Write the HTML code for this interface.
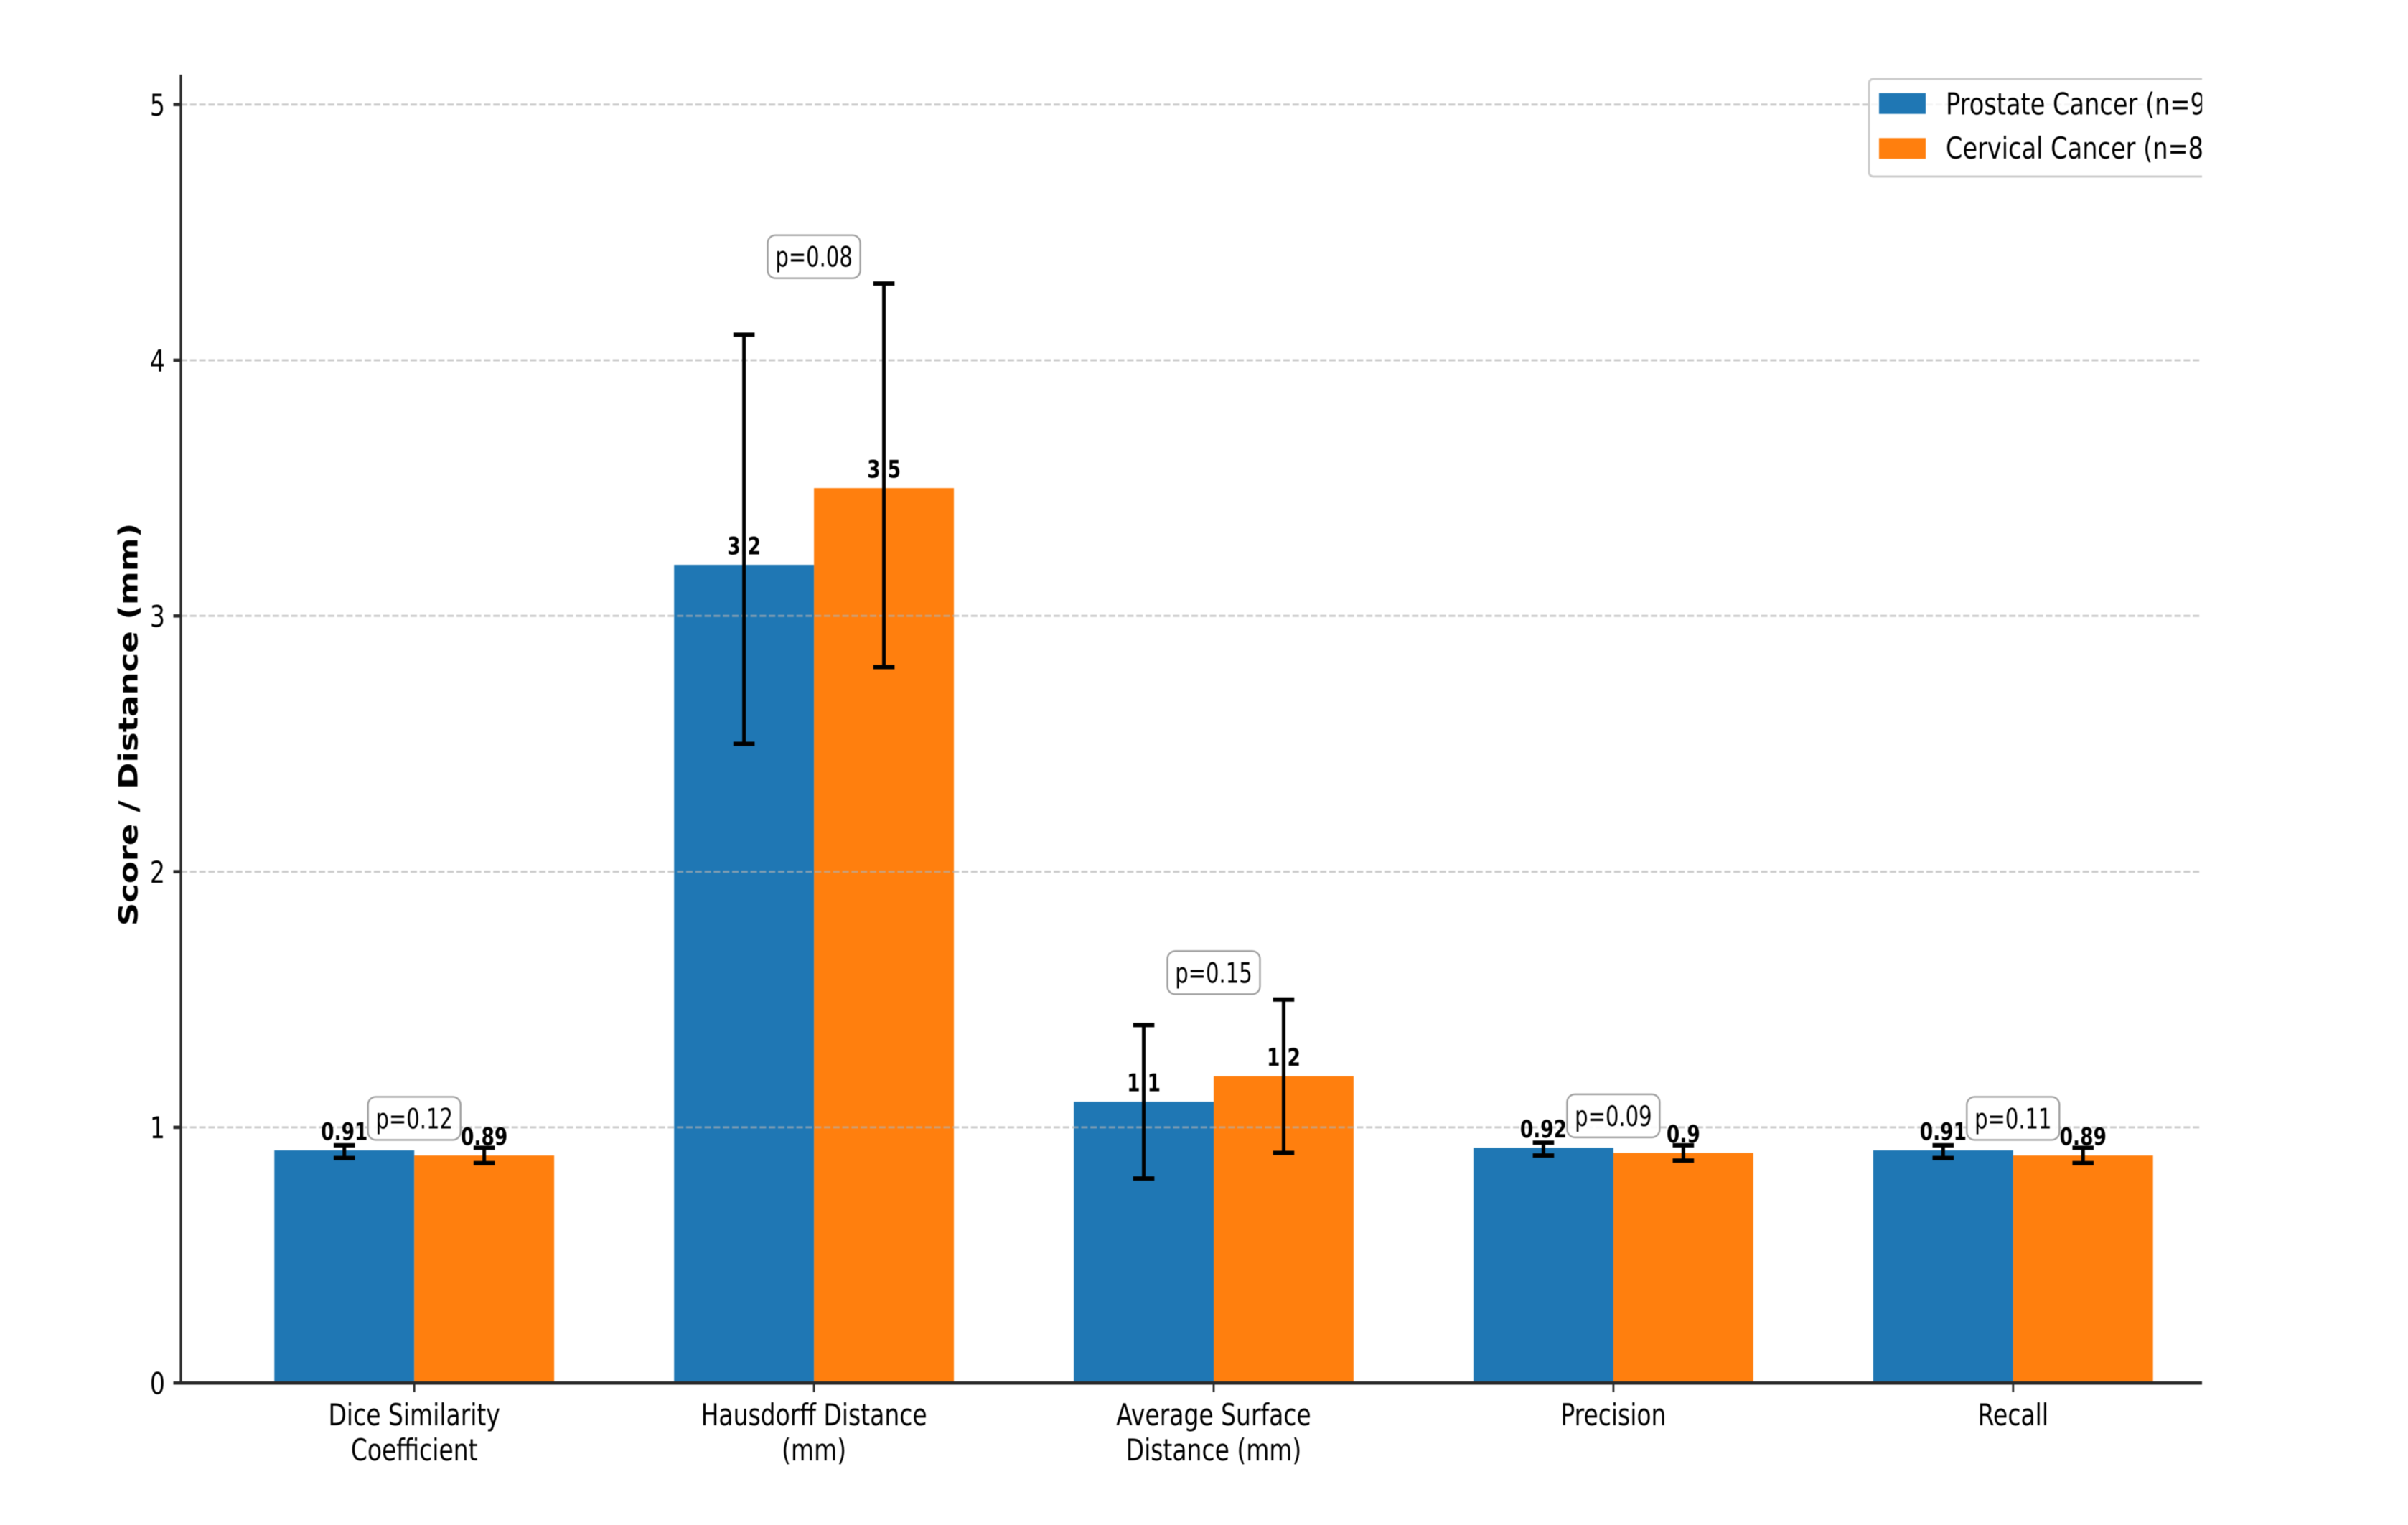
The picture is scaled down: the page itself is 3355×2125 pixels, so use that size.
<!DOCTYPE html>
<html lang="en">
<head>
<meta charset="utf-8">
<title>Segmentation metrics: prostate vs cervical cancer</title>
<style>
html,body{margin:0;padding:0;background:#fff;}
body{width:3355px;height:2125px;overflow:hidden;}
svg{display:block;filter:blur(0.6px);}
text{font-family:"DejaVu Sans","Liberation Sans",sans-serif;fill:#000;}
</style>
</head>
<body>
<svg id="chart" xmlns="http://www.w3.org/2000/svg" width="3355" height="2125" viewBox="0 0 3355 2125">
  <defs>
    <clipPath id="axes-clip"><rect x="0" y="0" width="3068" height="2125"></rect></clipPath>
  </defs>
</svg>
<script>
const categories = [["Dice Similarity","Coefficient"],["Hausdorff Distance","(mm)"],["Average Surface","Distance (mm)"],["Precision"],["Recall"]];
const seriesNames = ["Prostate Cancer (n=94)","Cervical Cancer (n=89)"];
const prostateValues = [0.91,3.2,1.1,0.92,0.91];
const cervicalValues = [0.89,3.5,1.2,0.9,0.89];
const prostateLow = [0.88,2.5,0.8,0.89,0.88];
const prostateHigh = [0.93,4.1,1.4,0.94,0.93];
const cervicalLow = [0.86,2.8,0.9,0.87,0.86];
const cervicalHigh = [0.92,4.3,1.5,0.93,0.92];
const pValues = ["p=0.12","p=0.08","p=0.15","p=0.09","p=0.11"];
const yTicks = [0,1,2,3,4,5];

const NS = "http://www.w3.org/2000/svg";
const svg = document.getElementById("chart");
const colors = ["#1f77b4","#ff7f0e"];
const axLeft = 252, axRight = 3068, axTop = 104, axBottom = 1927.2;
const y0 = 1927.2, unitY = 356.3;
const x0 = 577.2, unitX = 556.9, barW = 0.35 * unitX;

function yScale(v){ return y0 - v * unitY; }
function xScale(i){ return x0 + i * unitX; }

function make(tag, attrs, parent){
  const el = document.createElementNS(NS, tag);
  for (const k in attrs) el.setAttribute(k, attrs[k]);
  (parent || svg).appendChild(el);
  return el;
}
function label(str, x, y, size, squeeze, anchor, bold, parent){
  const el = make("text", {
    transform: "translate(" + x + "," + y + ") scale(" + squeeze + ",1)",
    "font-size": size,
    "text-anchor": anchor,
    "font-weight": bold ? "bold" : "normal"
  }, parent);
  el.textContent = str;
  return el;
}

/* bars */
const allValues = [prostateValues, cervicalValues];
const allLow = [prostateLow, cervicalLow];
const allHigh = [prostateHigh, cervicalHigh];
allValues.forEach(function(values, s){
  values.forEach(function(v, i){
    const left = xScale(i) + (s === 0 ? -barW : 0);
    const bar = make("rect", {x:left, y:yScale(v), width:barW, height:y0 - yScale(v), fill:colors[s]});
    
    
  });
});

/* gridlines */
yTicks.forEach(function(t){
  if (t === 0) return;
  const g = make("line", {x1:axLeft, x2:axRight, y1:yScale(t), y2:yScale(t), stroke:"#b0b0b0", "stroke-opacity":0.65, "stroke-width":3, "stroke-dasharray":"9 3.8"});
  
  
});

/* axes */
const ySpine = make("line", {x1:axLeft, x2:axLeft, y1:axTop, y2:axBottom + 2, stroke:"#2a2a2a", "stroke-width":3.2});


const xSpine = make("line", {x1:axLeft, x2:axRight, y1:axBottom, y2:axBottom, stroke:"#2a2a2a", "stroke-width":4.6});



yTicks.forEach(function(t){
  const tick = make("line", {x1:241.5, x2:axLeft, y1:yScale(t), y2:yScale(t), stroke:"#2a2a2a", "stroke-width":4.6});
  
  
  const txt = label(String(t), 230, yScale(t) + 15.3, 42, 0.79, "end", false);
  
  
});

categories.forEach(function(lines, i){
  const tick = make("line", {x1:xScale(i), x2:xScale(i), y1:axBottom, y2:axBottom + 12.5, stroke:"#2a2a2a", "stroke-width":2.8});
  
  
  lines.forEach(function(line, j){
    const txt = label(line, xScale(i), 1986 + j * 49, 42, 0.785, "middle", false);
    
    
  });
});

/* y-axis title */
const yTitle = make("text", {
  transform: "translate(191.7,1009.5) rotate(-90) scale(1,0.82)",
  "font-size": 45,
  "text-anchor": "middle",
  "font-weight": "bold"
});
yTitle.textContent = "Score / Distance (mm)";



/* error bars */
allValues.forEach(function(values, s){
  values.forEach(function(v, i){
    const cx = xScale(i) + (s === 0 ? -barW / 2 : barW / 2);
    const lo = yScale(allLow[s][i]);
    const hi = yScale(allHigh[s][i]);
    const stem = make("line", {x1:cx, x2:cx, y1:lo, y2:hi, stroke:"#000", "stroke-width":5});
    
    
    const capTop = make("line", {x1:cx - 14.8, x2:cx + 14.8, y1:hi, y2:hi, stroke:"#000", "stroke-width":6});
    
    
    const capLow = make("line", {x1:cx - 14.8, x2:cx + 14.8, y1:lo, y2:lo, stroke:"#000", "stroke-width":6});
    
    
  });
});

/* value labels */
allValues.forEach(function(values, s){
  values.forEach(function(v, i){
    const cx = xScale(i) + (s === 0 ? -barW / 2 : barW / 2);
    const txt = label(String(v), cx, yScale(v) - 14.6, 33.5, 0.79, "middle", true);
    
    
  });
});

/* p-value boxes */
pValues.forEach(function(p, i){
  const top = Math.max(prostateHigh[i], cervicalHigh[i]) + 0.105;
  const cy = yScale(top);
  const box = make("rect", {x:xScale(i) - 64.5, y:cy - 30, width:129, height:60, rx:11, ry:11, fill:"#fff", "fill-opacity":0.9, stroke:"#a0a0a0", "stroke-width":2.4});
  
  
  const txt = label(p, xScale(i), cy + 14, 39, 0.745, "middle", false);
  
  
});

/* legend, cut off at the right edge of the axes */
const legend = make("g", {"clip-path":"url(#axes-clip)"});


const frame = make("rect", {x:2604, y:110, width:600, height:136, rx:6, ry:6, fill:"#fff", "fill-opacity":0.8, stroke:"#cccccc", "stroke-width":3}, legend);


seriesNames.forEach(function(name, s){
  const sy = 129.7 + s * 62.6;
  const swatch = make("rect", {x:2618, y:sy, width:65, height:29, fill:colors[s]}, legend);
  
  
  const txt = label(name, 2711, 159.5 + s * 61.5, 42, 0.8, "start", false, legend);
  
  
});
</script>
</body>
</html>
